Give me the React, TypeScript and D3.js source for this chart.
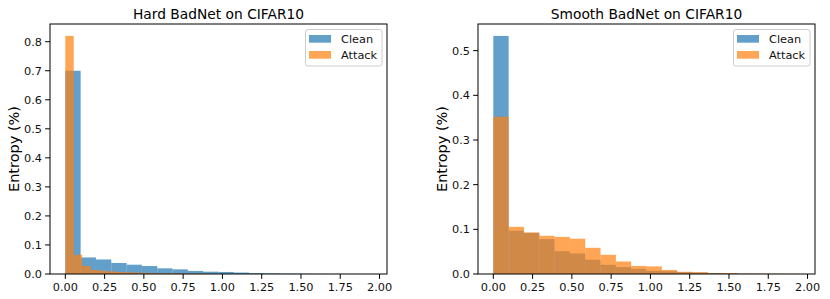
import React from 'react';
import * as d3 from 'd3';

const W = 830;
const H = 299;
const FONT = '"DejaVu Sans", sans-serif';
const BLUE = '#1f77b4';
const ORANGE = '#ff7f0e';

// hist bins: each series is 20 equal bins over its own [min, max]
const hardCleanRange = [0, 1.95];
const hardClean = [0.70, 0.057, 0.050, 0.038, 0.032, 0.0275, 0.0195, 0.016, 0.0105, 0.008,
  0.007, 0.005, 0.003, 0.002, 0.0013, 0.0009, 0.0005, 0.0003, 0.0002, 0.0001];
const hardAttackRange = [0, 1.07];
const hardAttack = [0.82, 0.066, 0.028, 0.014, 0.011, 0.009, 0.007, 0.006, 0.005, 0.004,
  0.003, 0.003, 0.002, 0.002, 0.001, 0.001, 0.001, 0.0005, 0.0005, 0.0005];

const smoothCleanRange = [0, 1.95];
const smoothClean = [0.533, 0.097, 0.092, 0.078, 0.051, 0.046, 0.032, 0.0206, 0.0154, 0.0116,
  0.007, 0.006, 0.004, 0.003, 0.002, 0.001, 0.0005, 0.0003, 0.0002, 0.0001];
const smoothAttackRange = [0, 1.95];
const smoothAttack = [0.352, 0.1056, 0.093, 0.0855, 0.083, 0.079, 0.0586, 0.043, 0.028, 0.018,
  0.017, 0.009, 0.005, 0.004, 0.002, 0.002, 0.0008, 0.0006, 0.0004, 0.0004];

const xTicks = [0, 0.25, 0.5, 0.75, 1.0, 1.25, 1.5, 1.75, 2.0];
const hardYTicks = [0, 0.1, 0.2, 0.3, 0.4, 0.5, 0.6, 0.7, 0.8];
const smoothYTicks = [0, 0.1, 0.2, 0.3, 0.4, 0.5];
const seriesNames = ['Clean', 'Attack'];

type Series = { range: number[]; values: number[]; color: string };

function Panel({ left, title, series, yTicks }: {
  left: number; title: string; series: Series[]; yTicks: number[];
}) {
  const top = 24;
  const bottom = 274;
  const right = left + 337;
  // matplotlib style 5% x margin over the full data span
  const lo = d3.min(series, s => s.range[0]) as number;
  const hi = d3.max(series, s => s.range[1]) as number;
  const pad = (hi - lo) * 0.05;
  const x = d3.scaleLinear().domain([lo - pad, hi + pad]).range([left, right]);
  const yMax = d3.max(series, s => d3.max(s.values) as number) as number;
  const y = d3.scaleLinear().domain([0, yMax * 1.05]).range([bottom, top]);
  const fmtX = d3.format('.2f');
  const fmtY = d3.format('.1f');

  return (
    <g>
      {series.map((s, si) => {
        const step = (s.range[1] - s.range[0]) / s.values.length;
        return (
          <g key={si}>
            {s.values.map((v, i) => {
              const x0 = x(s.range[0] + i * step);
              const x1 = x(s.range[0] + (i + 1) * step);
              return (
                <rect key={i} x={x0} y={y(v)} width={x1 - x0} height={bottom - y(v)}
                  fill={s.color} fillOpacity={0.7} />
              );
            })}
          </g>
        );
      })}
      <rect x={left} y={top} width={right - left} height={bottom - top}
        fill="none" stroke="#000" strokeWidth={1} />
      {xTicks.map(t => (
        <g key={t}>
          <line x1={x(t)} x2={x(t)} y1={bottom} y2={bottom + 4.9} stroke="#000" strokeWidth={1} />
          <text x={x(t)} y={bottom + 16.5} textAnchor="middle" fontSize={11.3} fill="#111">{fmtX(t)}</text>
        </g>
      ))}
      {yTicks.map(t => (
        <g key={t}>
          <line x1={left - 4.9} x2={left} y1={y(t)} y2={y(t)} stroke="#000" strokeWidth={1} />
          <text x={left - 8} y={y(t)} dy="0.36em" textAnchor="end" fontSize={11.3} fill="#111">{fmtY(t)}</text>
        </g>
      ))}
      <text x={(left + right) / 2} y={18.5} textAnchor="middle" fontSize={13.8} fill="#000">{title}</text>
      <text transform={`translate(${left - 31},${(top + bottom) / 2}) rotate(-90)`}
        textAnchor="middle" fontSize={14.5} fill="#000">Entropy (%)</text>
      <g transform={`translate(${right - 82},${top + 5})`}>
        <rect x={0.5} y={0.5} width={76.5} height={36.5} rx={2.5} fill="#fff" fillOpacity={0.8}
          stroke="#cccccc" strokeWidth={1} />
        {series.map((s, i) => (
          <g key={i} transform={`translate(4,${6 + i * 16})`}>
            <rect x={0} y={0} width={22} height={7.7} fill={s.color} fillOpacity={0.7} />
            <text x={32} y={3.9} dy="0.36em" fontSize={11.3} fill="#111">{seriesNames[i]}</text>
          </g>
        ))}
      </g>
    </g>
  );
}

export default function App() {
  return (
    <svg width={W} height={H} style={{ position: 'absolute', left: 0, top: 0, background: '#fff' }}
      fontFamily={FONT}>
      <Panel left={50} title="Hard BadNet on CIFAR10" yTicks={hardYTicks}
        series={[
          { range: hardCleanRange, values: hardClean, color: BLUE },
          { range: hardAttackRange, values: hardAttack, color: ORANGE },
        ]} />
      <Panel left={478} title="Smooth BadNet on CIFAR10" yTicks={smoothYTicks}
        series={[
          { range: smoothCleanRange, values: smoothClean, color: BLUE },
          { range: smoothAttackRange, values: smoothAttack, color: ORANGE },
        ]} />
    </svg>
  );
}
